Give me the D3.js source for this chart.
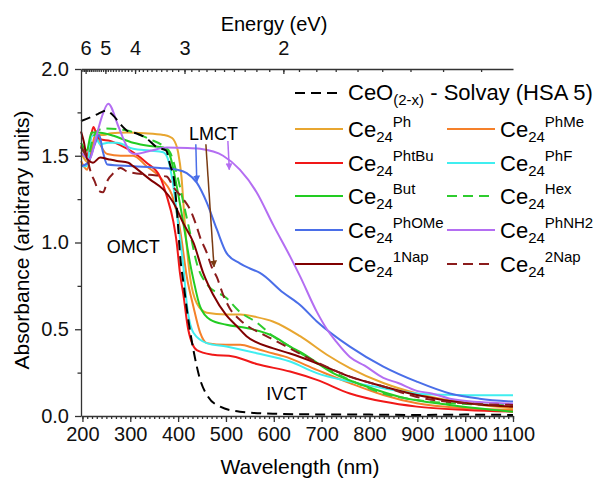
<!DOCTYPE html>
<html>
<head>
  <meta charset="utf-8">
  <script src="https://cdn.jsdelivr.net/npm/d3@7/dist/d3.min.js"></script>
</head>
<style>
  body { margin: 0; background: #fff; }
  svg { display: block; font-family: "Liberation Sans", Arial, sans-serif; }
  .axis path, .axis line { stroke: #333; stroke-width: 1.3; }
  .axis text { font-size: 20px; fill: #111; }
</style>
<body>
  <svg id="chart"></svg>
  <script type="text/javascript">
    // wavelength (nm), absorbance
    var ceo2 = [[197,1.70],[215,1.72],[232,1.74],[250,1.76],[265,1.73],[280,1.68],[296,1.64],[312,1.63],[334,1.60],[355,1.55],[375,1.53],[383,1.45],[392,1.35],[398,1.17],[404,0.93],[412,0.75],[421,0.56],[432,0.38],[446,0.21],[463,0.11],[488,0.054],[529,0.025],[598,0.013],[700,0.009],[800,0.008],[900,0.006],[1000,0.008],[1100,0.006]];
    var ph = [[197,1.52],[212,1.46],[222,1.56],[232,1.62],[245,1.62],[260,1.63],[293,1.634],[330,1.63],[369,1.62],[382,1.61],[390,1.595],[400,1.52],[407,1.38],[414,1.11],[425,0.80],[439,0.65],[460,0.595],[500,0.585],[530,0.585],[564,0.57],[598,0.545],[655,0.46],[711,0.353],[759,0.276],[829,0.19],[899,0.13],[968,0.09],[1030,0.065],[1100,0.045]];
    var phMe = [[197,1.47],[210,1.42],[218,1.52],[228,1.63],[238,1.56],[252,1.51],[280,1.50],[306,1.50],[334,1.44],[366,1.364],[390,1.25],[404,1.075],[418,0.805],[432,0.63],[446,0.48],[460,0.42],[500,0.41],[530,0.41],[560,0.39],[599,0.36],[620,0.345],[690,0.266],[759,0.19],[829,0.121],[899,0.073],[1003,0.045],[1100,0.035]];
    var phtBu = [[197,1.56],[210,1.50],[217,1.60],[223,1.665],[230,1.62],[237,1.595],[258,1.585],[280,1.56],[306,1.52],[334,1.46],[362,1.38],[376,1.27],[390,1.12],[397,1.0],[404,0.82],[411,0.70],[421,0.50],[439,0.38],[473,0.353],[515,0.343],[564,0.30],[634,0.256],[690,0.208],[759,0.13],[829,0.083],[899,0.054],[1003,0.035],[1100,0.025]];
    var phF = [[197,1.44],[209,1.44],[219,1.61],[225,1.62],[237,1.566],[254,1.575],[272,1.575],[306,1.54],[341,1.53],[369,1.52],[380,1.47],[390,1.325],[400,1.11],[411,0.86],[418,0.65],[432,0.48],[460,0.42],[501,0.40],[564,0.362],[634,0.314],[690,0.247],[759,0.198],[829,0.16],[899,0.13],[960,0.122],[1003,0.12],[1100,0.12]];
    var but = [[197,1.575],[209,1.53],[219,1.634],[233,1.634],[254,1.624],[265,1.615],[306,1.575],[341,1.556],[369,1.547],[383,1.50],[397,1.325],[411,1.11],[425,0.88],[432,0.786],[446,0.63],[467,0.555],[501,0.526],[543,0.507],[599,0.46],[634,0.40],[655,0.37],[724,0.247],[794,0.17],[864,0.11],[968,0.064],[1100,0.025]];
    var hex = [[197,1.55],[212,1.50],[222,1.60],[235,1.65],[247,1.657],[293,1.645],[341,1.595],[369,1.556],[383,1.52],[397,1.40],[411,1.23],[425,1.055],[439,0.88],[460,0.76],[501,0.68],[529,0.60],[564,0.54],[599,0.458],[634,0.40],[690,0.304],[759,0.208],[829,0.13],[899,0.092],[1003,0.069],[1100,0.062]];
    var phOMe = [[197,1.44],[212,1.46],[225,1.56],[235,1.62],[243,1.52],[252,1.45],[306,1.44],[362,1.43],[397,1.42],[418,1.40],[439,1.345],[460,1.23],[481,1.075],[501,0.94],[529,0.88],[550,0.85],[571,0.825],[620,0.71],[655,0.64],[690,0.545],[759,0.40],[829,0.285],[899,0.198],[968,0.13],[1030,0.10],[1100,0.083]];
    var phNH2 = [[197,1.52],[215,1.48],[228,1.60],[240,1.72],[254,1.80],[275,1.67],[289,1.576],[300,1.52],[310,1.51],[330,1.52],[345,1.53],[376,1.547],[420,1.545],[446,1.54],[494,1.50],[529,1.42],[564,1.29],[599,1.10],[634,0.92],[655,0.805],[690,0.60],[711,0.50],[730,0.43],[759,0.34],[790,0.29],[829,0.22],[860,0.19],[899,0.145],[930,0.13],[968,0.10],[1030,0.08],[1100,0.07]];
    var nap1 = [[197,1.64],[203,1.58],[210,1.48],[222,1.46],[237,1.49],[254,1.48],[272,1.47],[296,1.46],[306,1.44],[341,1.364],[369,1.306],[390,1.23],[411,1.11],[432,1.0],[453,0.82],[473,0.70],[501,0.58],[522,0.52],[543,0.46],[599,0.39],[634,0.36],[690,0.304],[759,0.227],[829,0.17],[899,0.121],[1003,0.073],[1100,0.054]];
    var nap2 = [[197,1.55],[210,1.48],[218,1.40],[226,1.35],[233,1.30],[243,1.29],[253,1.36],[265,1.40],[280,1.43],[293,1.41],[341,1.39],[376,1.38],[390,1.32],[411,1.25],[425,1.19],[439,1.09],[446,1.03],[460,0.94],[470,0.86],[481,0.80],[494,0.70],[508,0.62],[529,0.555],[550,0.51],[571,0.48],[592,0.45],[620,0.41],[690,0.31],[759,0.227],[829,0.17],[899,0.11],[1003,0.073],[1100,0.064]];

    var energyMajor = [6, 5, 4, 3, 2];
    var energyMinor = d3.range(12, 65).map(function (d) { return d / 10; });
    var wlMajor = d3.range(200, 1101, 100);
    var wlMinor = d3.range(200, 1101, 10);
    var absMajor = [0, 0.5, 1.0, 1.5, 2.0];
    var absMinor = [0.25, 0.75, 1.25, 1.75];

    var series = [
      { data: ph,    sup: 'Ph',    color: '#e8a630', dash: null },
      { data: phMe,  sup: 'PhMe',  color: '#f5802a', dash: null },
      { data: phtBu, sup: 'PhtBu', color: '#f01818', dash: null },
      { data: phF,   sup: 'PhF',   color: '#40eef0', dash: null },
      { data: but,   sup: 'But',   color: '#22cc22', dash: null },
      { data: hex,   sup: 'Hex',   color: '#2ecc2e', dash: '10,6' },
      { data: phOMe, sup: 'PhOMe', color: '#4a6ee8', dash: null },
      { data: phNH2, sup: 'PhNH2', color: '#b46ef2', dash: null },
      { data: nap1,  sup: '1Nap',  color: '#800000', dash: null },
      { data: nap2,  sup: '2Nap',  color: '#8b1c1c', dash: '10,6' }
    ];

    // annotation arrows, [from, to] in (nm, abs)
    var arrows = [
      { from: [437, 1.566], to: [439, 1.35], color: '#4a6ee8' },
      { from: [458, 1.566], to: [475, 0.86], color: '#7a3b12' },
      { from: [504, 1.585], to: [507, 1.42], color: '#b46ef2' }
    ];
    var notes = [
      { text: 'LMCT', at: [474, 1.59] },
      { text: 'OMCT', at: [306, 0.94] },
      { text: 'IVCT', at: [627, 0.09] }
    ];

    var W = 593, H = 484;
    var svg = d3.select('#chart').attr('width', W).attr('height', H);

    var x = d3.scaleLinear().domain([197, 1100]).range([81, 513]);
    var y = d3.scaleLinear().domain([0, 2]).range([416, 69]);

    // curves
    var line = d3.line()
      .x(function (d) { return x(d[0]); })
      .y(function (d) { return y(d[1]); })
      .curve(d3.curveMonotoneX);

    series.forEach(function (s) {
      svg.append('path')
        .attr('d', line(s.data))
        .attr('fill', 'none')
        .attr('stroke', s.color)
        .attr('stroke-width', 2)
        .attr('stroke-dasharray', s.dash);
    });
    svg.append('path')
      .attr('d', line(ceo2))
      .attr('fill', 'none')
      .attr('stroke', '#000')
      .attr('stroke-width', 2)
      .attr('stroke-dasharray', '10,6');

    // axes
    svg.append('g')
      .attr('class', 'axis')
      .attr('transform', 'translate(0,' + y(0) + ')')
      .call(d3.axisBottom(x).tickValues(wlMinor).tickSize(3).tickFormat(''))
      .select('.domain').remove();
    svg.append('g')
      .attr('class', 'axis')
      .attr('transform', 'translate(0,' + y(0) + ')')
      .call(d3.axisBottom(x).tickValues(wlMajor).tickSizeInner(6).tickSizeOuter(0).tickPadding(5).tickFormat(d3.format('d')));

    svg.append('g')
      .attr('class', 'axis')
      .attr('transform', 'translate(' + x(197) + ',0)')
      .call(d3.axisLeft(y).tickValues(absMinor).tickSize(3.5).tickFormat(''))
      .select('.domain').remove();
    svg.append('g')
      .attr('class', 'axis')
      .attr('transform', 'translate(' + x(197) + ',0)')
      .call(d3.axisLeft(y).tickValues(absMajor).tickSizeInner(6).tickSizeOuter(0).tickPadding(6).tickFormat(d3.format('.1f')));

    // energy axis on top, E = 1240 / wavelength
    var toWl = function (e) { return 1240 / e; };
    svg.append('g')
      .attr('class', 'axis')
      .attr('transform', 'translate(0,' + y(2) + ')')
      .call(d3.axisTop(x).tickValues(energyMinor.map(toWl).filter(function (v) { return v >= 197 && v <= 1100; }))
        .tickSize(-3).tickFormat(''))
      .select('.domain').remove();
    svg.append('g')
      .attr('class', 'axis')
      .attr('transform', 'translate(0,' + y(2) + ')')
      .call(d3.axisTop(x).tickValues(energyMajor.map(toWl)).tickSizeInner(-5).tickSizeOuter(0).tickPadding(14)
        .tickFormat(function (v) { return Math.round(1240 / v); }));

    // titles
    svg.append('text')
      .attr('x', 300).attr('y', 474)
      .attr('text-anchor', 'middle')
      .attr('font-size', 21)
      .text('Wavelength (nm)');
    svg.append('text')
      .attr('transform', 'translate(29,' + 240 + ') rotate(-90)')
      .attr('text-anchor', 'middle')
      .attr('font-size', 21)
      .text('Absorbance (arbitrary units)');
    svg.append('text')
      .attr('x', 274).attr('y', 31)
      .attr('text-anchor', 'middle')
      .attr('font-size', 20)
      .text('Energy (eV)');

    // arrows
    var defs = svg.append('defs');
    arrows.forEach(function (a, i) {
      defs.append('marker')
        .attr('id', 'ah' + i)
        .attr('viewBox', '0 0 10 10')
        .attr('refX', 9).attr('refY', 5)
        .attr('markerWidth', 7).attr('markerHeight', 9)
        .attr('markerUnits', 'userSpaceOnUse')
        .attr('orient', 'auto')
        .append('path')
        .attr('d', 'M0,0 L10,5 L0,10 Z')
        .attr('fill', a.color);
      svg.append('line')
        .attr('x1', x(a.from[0])).attr('y1', y(a.from[1]))
        .attr('x2', x(a.to[0])).attr('y2', y(a.to[1]))
        .attr('stroke', a.color)
        .attr('stroke-width', 1.5)
        .attr('marker-end', 'url(#ah' + i + ')');
    });
    notes.forEach(function (n) {
      svg.append('text')
        .attr('x', x(n.at[0])).attr('y', y(n.at[1]))
        .attr('text-anchor', 'middle')
        .attr('font-size', 18)
        .text(n.text);
    });

    // legend
    var lg = svg.append('g');
    var row0 = 93, rowY = [129, 163, 196, 230, 264];
    lg.append('line')
      .attr('x1', 295).attr('x2', 343).attr('y1', row0).attr('y2', row0)
      .attr('stroke', '#000').attr('stroke-width', 2).attr('stroke-dasharray', '10,6');
    var t0 = lg.append('text').attr('x', 348).attr('y', row0 + 7).attr('font-size', 22);
    t0.append('tspan').text('CeO');
    t0.append('tspan').attr('font-size', 15).attr('dy', 5).text('(2-x)');
    t0.append('tspan').attr('dy', -5).text(' - Solvay (HSA 5)');

    series.forEach(function (s, i) {
      var col = i % 2, row = Math.floor(i / 2);
      var lx = col === 0 ? 295 : 447;
      var ly = rowY[row];
      lg.append('line')
        .attr('x1', lx).attr('x2', lx + 48).attr('y1', ly).attr('y2', ly)
        .attr('stroke', s.color).attr('stroke-width', 2)
        .attr('stroke-dasharray', s.dash);
      var t = lg.append('text').attr('x', lx + 53).attr('y', ly + 8).attr('font-size', 22);
      t.append('tspan').text('Ce');
      t.append('tspan').attr('font-size', 15).attr('dy', 5).text('24');
      t.append('tspan').attr('font-size', 15).attr('dy', -15).text(s.sup);
    });
  </script>
</body>
</html>
